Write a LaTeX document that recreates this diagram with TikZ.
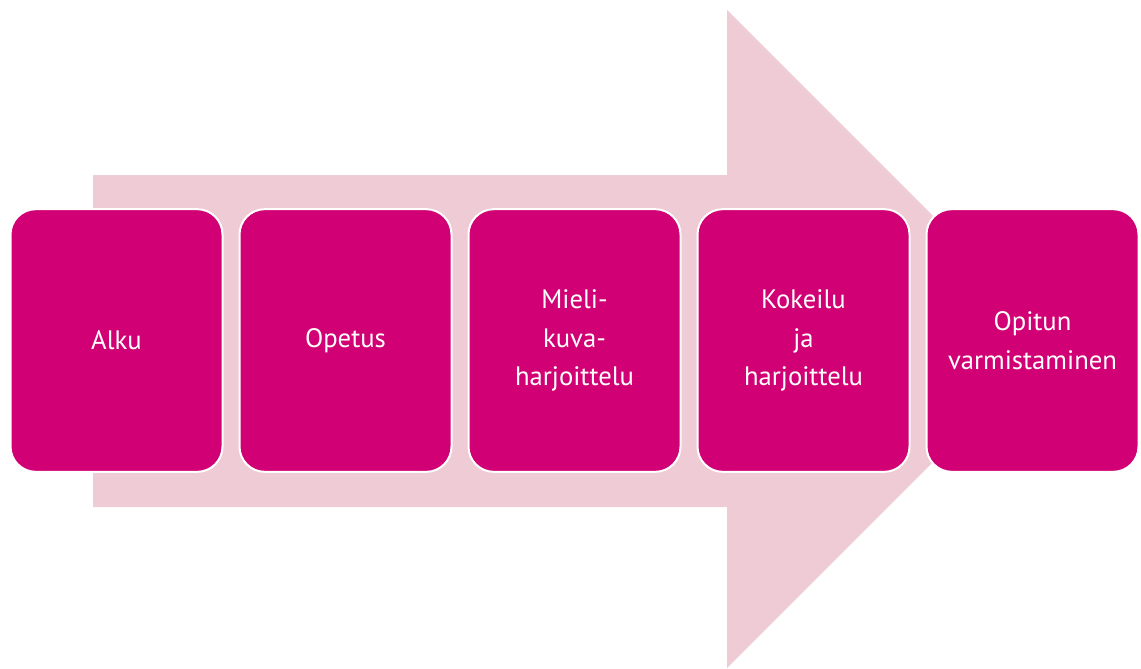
\documentclass[tikz,border=0pt]{standalone}
\usepackage{fontspec}
\setmainfont{PT Sans}
\usepackage{xcolor}
\usetikzlibrary{positioning}
\definecolor{stepmag}{RGB}{209,0,116}
\definecolor{arrowpink}{RGB}{239,203,213}

\begin{document}
\begin{tikzpicture}[x=0.75pt,y=-0.75pt,node distance=12.75pt,
  every node/.style={font=\fontsize{20}{29}\selectfont},
  stepbox/.style={draw=white,line width=1.5pt,rounded corners=19pt,fill=stepmag,outer sep=0pt,
    text=white,align=center,minimum width=159pt,minimum height=197pt,inner sep=2pt}]
\useasboundingbox (0,0) rectangle (1141,668);
\begin{scope}
\clip (0,0) rectangle (1141,668);
\fill[arrowpink] (93,175) -- (727,175) -- (727,10) -- (1056,339) -- (727,668)
  -- (727,507) -- (93,507) -- cycle;
\end{scope}
\node[stepbox](alku) at (116.5,340.5){Alku};
\node[stepbox,right=of alku](opetus){Opetus};
\node[stepbox,right=of opetus](mieli){Mieli-\\kuva-\\harjoittelu};
\node[stepbox,right=of mieli](kokeilu){Kokeilu\\ja\\harjoittelu};
\node[stepbox,right=of kokeilu](opitun){Opitun\\varmistaminen};
\end{tikzpicture}
\end{document}
